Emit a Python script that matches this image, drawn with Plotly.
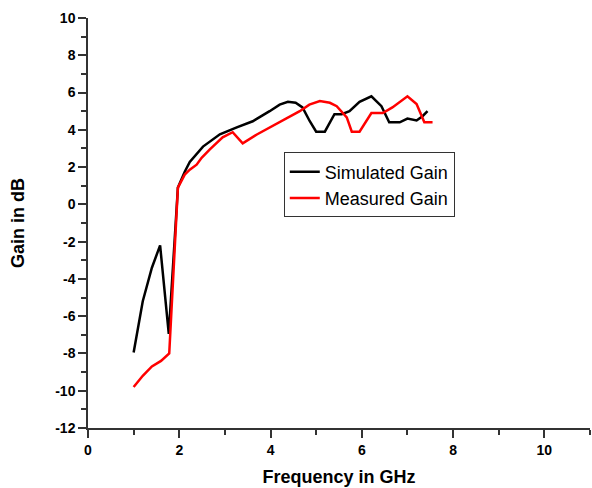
import plotly.graph_objects as go

# Data
sim_freq = [1.0, 1.2, 1.4, 1.58, 1.77, 1.97, 2.12, 2.23, 2.52, 2.89, 3.26, 3.61, 3.98, 4.2, 4.38,
            4.55, 4.7, 4.86, 5.0, 5.19, 5.4, 5.56, 5.73, 5.95, 6.21, 6.43, 6.6, 6.83, 7.0, 7.2, 7.33, 7.44]
sim_gain = [-7.95, -5.2, -3.4, -2.2, -6.95, 0.9, 1.75, 2.28, 3.1, 3.76, 4.13, 4.46, 5.0, 5.35, 5.5,
            5.45, 5.2, 4.46, 3.9, 3.9, 4.84, 4.84, 5.0, 5.5, 5.8, 5.27, 4.4, 4.4, 4.6, 4.5, 4.73, 5.0]

meas_freq = [1.0, 1.2, 1.4, 1.6, 1.78, 1.97, 2.12, 2.23, 2.38, 2.49, 2.67, 2.95, 3.17, 3.39, 3.7,
             3.98, 4.2, 4.64, 4.85, 5.08, 5.3, 5.45, 5.67, 5.78, 5.95, 6.21, 6.46, 6.67, 7.0, 7.2, 7.37, 7.55]
meas_gain = [-9.8, -9.2, -8.7, -8.4, -8.0, 0.9, 1.6, 1.86, 2.13, 2.5, 2.95, 3.6, 3.87, 3.27, 3.75,
             4.13, 4.4, 5.0, 5.35, 5.54, 5.45, 5.27, 4.67, 3.9, 3.9, 4.9, 4.9, 5.2, 5.8, 5.38, 4.4, 4.4]

x_ticks = [0, 2, 4, 6, 8, 10]
y_ticks = [-12, -10, -8, -6, -4, -2, 0, 2, 4, 6, 8, 10]

FONT = "Liberation Sans, Arial, sans-serif"

fig = go.Figure()
fig.add_trace(go.Scatter(x=sim_freq, y=sim_gain, mode="lines", name="Simulated Gain",
                         line=dict(color="black", width=2.5)))
fig.add_trace(go.Scatter(x=meas_freq, y=meas_gain, mode="lines", name="Measured Gain",
                         line=dict(color="#ff0000", width=2.5)))

axis_common = dict(
    showline=True, linecolor="#333333", linewidth=1.5, mirror=False,
    showgrid=False, zeroline=False,
    ticks="outside", ticklen=8, tickwidth=1.5, tickcolor="#333333",
    tickfont=dict(family=FONT, size=14, color="black", weight="bold"),
)

fig.update_xaxes(
    range=[0, 11], tickmode="array", tickvals=x_ticks, ticktext=[str(v) for v in x_ticks],
    minor=dict(ticks="outside", ticklen=5, tickwidth=1.5, tickcolor="#333333", dtick=1, tick0=0),
    title=dict(text="Frequency in GHz", font=dict(family=FONT, size=18, color="black", weight="bold"),
               standoff=14),
    **axis_common,
)
fig.update_yaxes(
    range=[-12, 10], tickmode="array", tickvals=y_ticks, ticktext=[str(v) for v in y_ticks],
    minor=dict(ticks="outside", ticklen=5, tickwidth=1.5, tickcolor="#333333", dtick=1, tick0=0),
    title=dict(text="Gain in dB", font=dict(family=FONT, size=18, color="black", weight="bold"),
               standoff=26),
    **axis_common,
)

fig.update_layout(
    width=592, height=488,
    margin=dict(l=88, r=2, t=18, b=60, autoexpand=False),
    paper_bgcolor="white", plot_bgcolor="white",
    showlegend=True,
    legend=dict(x=0.39, y=0.672, xanchor="left", yanchor="top",
                bordercolor="#333333", borderwidth=1, bgcolor="rgba(255,255,255,0)",
                font=dict(family=FONT, size=18, color="black"),
                tracegroupgap=0, itemwidth=30),
)

fig.write_html("out.html")
